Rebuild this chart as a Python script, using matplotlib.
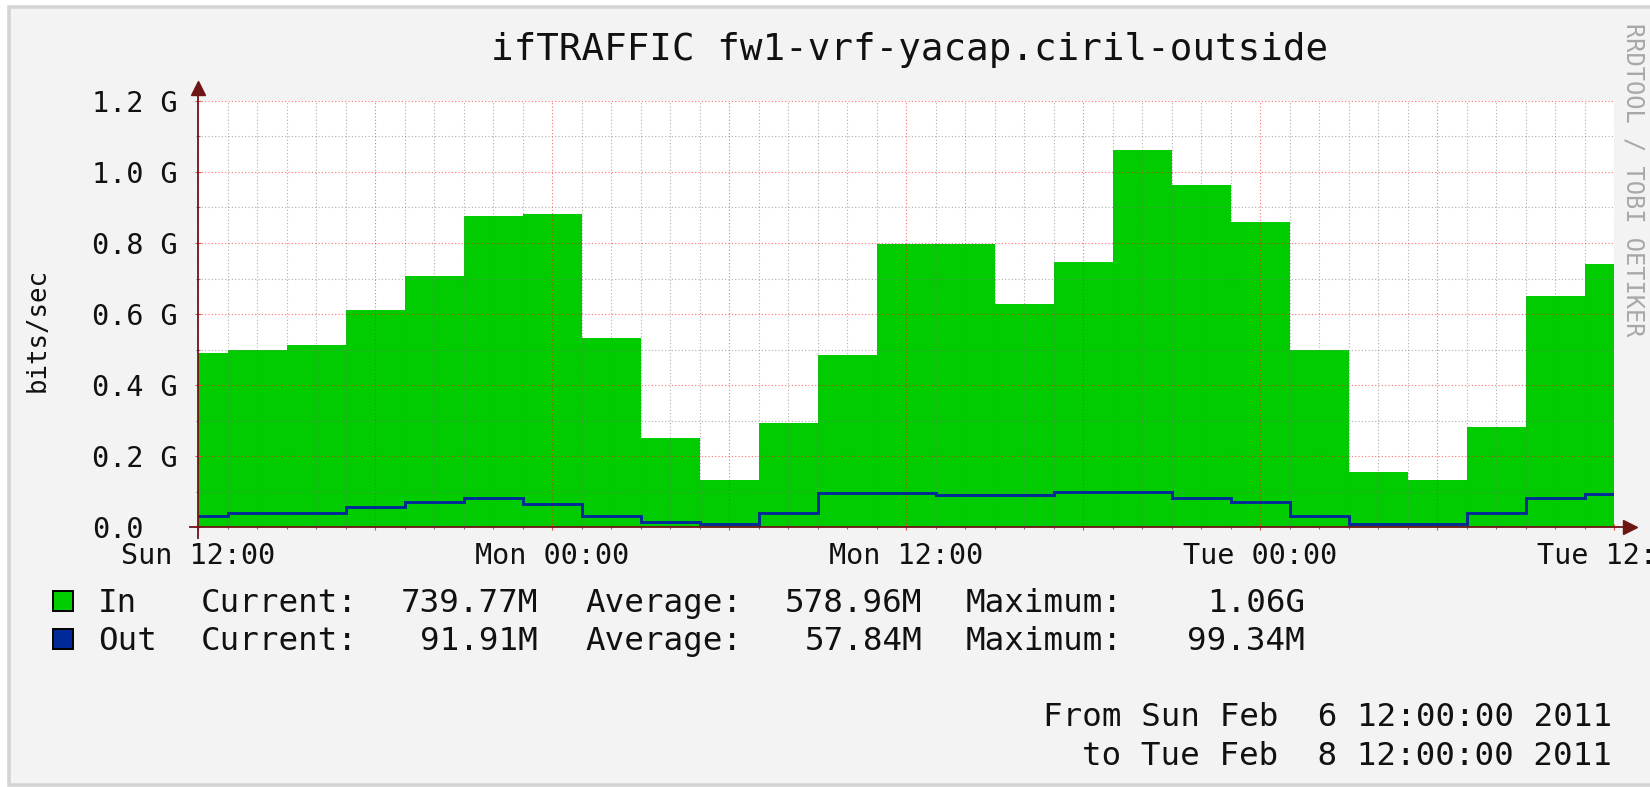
"""
plot.py - RRDtool style interface traffic graph (In area + Out line).
"""
import matplotlib
matplotlib.use("Agg")
import matplotlib.pyplot as plt
from matplotlib.patches import Rectangle

plt.rcParams.update({
    "font.family": ["DejaVu Sans Mono"],
    "lines.scale_dashes": True,
})

# ---- data (hours since Sun 12:00, values in bits/sec) ----
edges = [0, 1, 3, 5, 7, 9, 11, 13, 15, 17, 19, 21, 23, 25, 27, 29, 31,
         33, 35, 37, 39, 41, 43, 45, 47, 48]
in_g = [0.491, 0.500, 0.514, 0.611, 0.707, 0.876, 0.883, 0.531, 0.252,
        0.132, 0.292, 0.485, 0.796, 0.796, 0.628, 0.747, 1.062, 0.963,
        0.860, 0.500, 0.156, 0.132, 0.283, 0.651, 0.740]
out_g = [0.032, 0.040, 0.040, 0.057, 0.071, 0.081, 0.064, 0.032, 0.015,
         0.0075, 0.040, 0.097, 0.097, 0.089, 0.089, 0.098, 0.0993, 0.081,
         0.071, 0.032, 0.0085, 0.0085, 0.040, 0.081, 0.0919]

x_major = [0, 6, 12, 18, 24, 30, 36, 42, 48]
x_labels = ["Sun 12:00", "", "Mon 00:00", "", "Mon 12:00", "",
            "Tue 00:00", "", "Tue 12:00"]
y_major = [0.0, 0.2e9, 0.4e9, 0.6e9, 0.8e9, 1.0e9, 1.2e9]
y_labels = ["0.0", "0.2 G", "0.4 G", "0.6 G", "0.8 G", "1.0 G", "1.2 G"]

legend_names = ["In", "Out"]
legend_current = ["739.77M", "91.91M"]
legend_average = ["578.96M", "57.84M"]
legend_maximum = ["1.06G", "99.34M"]

title = "ifTRAFFIC fw1-vrf-yacap.ciril-outside"
period = ["From Sun Feb  6 12:00:00 2011", "to Tue Feb  8 12:00:00 2011"]

IN_COLOR = "#00cc00"
OUT_COLOR = "#002a97"
AXIS_COLOR = "#6e1515"

W, H = 1650, 787


def fx(x):
    return x / W


def fy(y):
    return 1 - y / H


fig = plt.figure(figsize=(W / 100, H / 100), dpi=100, facecolor="white")

# rrdtool frame / background (behind everything)
fig.patches.append(Rectangle((fx(9), fy(785)), fx(1650 - 9 + 10), (785 - 7) / H,
                             transform=fig.transFigure, facecolor="#f3f3f3",
                             edgecolor="#d4d4d4", linewidth=2.6, zorder=-5))

ax = fig.add_axes([fx(198), fy(527), fx(1614 - 198), (527 - 101) / H])
ax.set_facecolor("white")

in_vals = [v * 1e9 for v in in_g]
out_vals = [v * 1e9 for v in out_g]
ax.stairs(in_vals, edges, fill=True, color=IN_COLOR, baseline=0, zorder=1)
ax.stairs(out_vals, edges, baseline=None, color=OUT_COLOR, linewidth=2.1,
          zorder=3)

ax.set_xlim(0, 48)
ax.set_ylim(0, 1.2e9)

ax.set_xticks(x_major)
ax.set_xticklabels(x_labels)
ax.set_xticks(range(0, 49), minor=True)
ax.set_yticks(y_major)
ax.set_yticklabels(y_labels)
ax.set_yticks([i * 0.1e9 for i in range(13)], minor=True)

ax.set_axisbelow(False)
ax.grid(True, which="minor", color="#7a7a7a", alpha=0.6, linewidth=0.8,
        linestyle=(0, (1, 2)))
ax.grid(True, which="major", color="#ff1010", alpha=0.6, linewidth=0.8,
        linestyle=(0, (1, 2)))

ax.tick_params(which="major", direction="inout", length=5, width=0.8,
               color="#e05050", labelsize=20.5, labelcolor="#111111")
ax.tick_params(which="minor", direction="inout", length=3, width=0.8,
               color="#777777")
ax.tick_params(axis="x", which="major", pad=8)
ax.tick_params(axis="y", which="major", pad=73.5)
for lab in ax.get_yticklabels():
    lab.set_horizontalalignment("left")

for side in ["left", "right", "top", "bottom"]:
    ax.spines[side].set_visible(False)

# axes with arrows
ax.plot([-0.006, 1.008], [0, 0], transform=ax.transAxes, color=AXIS_COLOR,
        linewidth=1.3, clip_on=False, zorder=5)
ax.plot([0, 0], [-0.025, 1.025], transform=ax.transAxes, color=AXIS_COLOR,
        linewidth=1.3, clip_on=False, zorder=5)
ax.plot([1.0113], [0], marker=">", markersize=10, color=AXIS_COLOR,
        transform=ax.transAxes, clip_on=False, zorder=5)
ax.plot([0], [1.031], marker="^", markersize=10, color=AXIS_COLOR,
        transform=ax.transAxes, clip_on=False, zorder=5)

# title, unit label, watermark
fig.text(fx(910), fy(60), title, ha="center", va="baseline", fontsize=27,
         color="#111111")
fig.text(fx(38), fy(330), "bits/sec", ha="center", va="center",
         rotation=90, fontsize=18.5, color="#111111")
fig.text(fx(1634), fy(23), "RRDTOOL / TOBI OETIKER", ha="center", va="top",
         rotation=270, fontsize=17, color="#a8a8a8")

# legend rows
row_base = [612, 650]
colors = [IN_COLOR, OUT_COLOR]
for i, name in enumerate(legend_names):
    yb = row_base[i]
    fig.patches.append(Rectangle((fx(53), fy(yb - 1)), fx(20), 20 / H,
                                 transform=fig.transFigure,
                                 facecolor=colors[i], edgecolor="black",
                                 linewidth=1.4, zorder=2))
    kw = dict(va="baseline", fontsize=23.4, color="#111111")
    fig.text(fx(98), fy(yb), name, ha="left", **kw)
    fig.text(fx(201), fy(yb), "Current:", ha="left", **kw)
    fig.text(fx(538), fy(yb), legend_current[i], ha="right", **kw)
    fig.text(fx(585), fy(yb), "Average:", ha="left", **kw)
    fig.text(fx(922), fy(yb), legend_average[i], ha="right", **kw)
    fig.text(fx(966), fy(yb), "Maximum:", ha="left", **kw)
    fig.text(fx(1305), fy(yb), legend_maximum[i], ha="right", **kw)

fig.text(fx(1612), fy(726), period[0], ha="right", va="baseline",
         fontsize=23.4, color="#111111")
fig.text(fx(1612), fy(765), period[1], ha="right", va="baseline",
         fontsize=23.4, color="#111111")

fig.savefig("out.png", dpi=100, facecolor=fig.get_facecolor())
plt.close(fig)
